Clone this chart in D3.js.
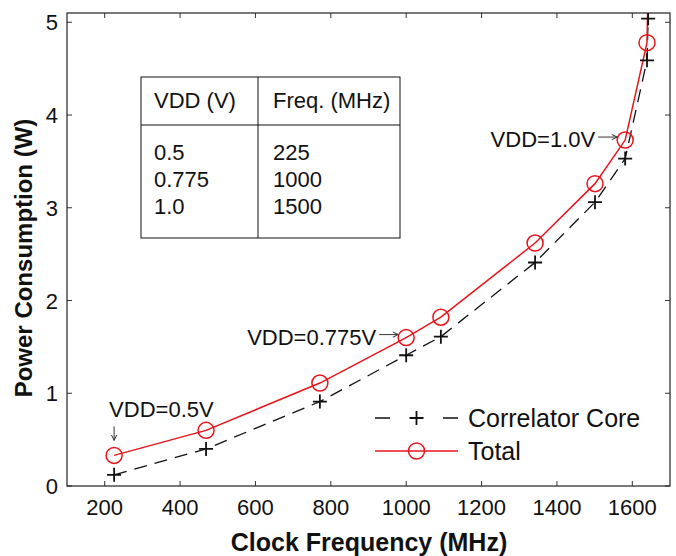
<!DOCTYPE html>
<meta charset="utf-8">
<title>Power vs Clock Frequency</title>
<style>
  body { margin: 0; background: #fff; }
  text { font-family: Arial, "Liberation Sans", sans-serif; fill: #111; }
</style>
<body>
<script src="https://cdnjs.cloudflare.com/ajax/libs/d3/7.8.5/d3.min.js"></script>
<script>

// values
const freq = [225, 469, 771, 1000, 1092, 1342, 1501, 1581, 1639, 1642];
const core = [0.12, 0.40, 0.91, 1.41, 1.61, 2.41, 3.06, 3.53, 4.59, 5.04];
const total = [0.33, 0.60, 1.11, 1.60, 1.82, 2.62, 3.26, 3.73, 4.78, 5.40];
const xTicks = [200, 400, 600, 800, 1000, 1200, 1400, 1600];
const yTicks = [0, 1, 2, 3, 4, 5];
const tableHead = ["VDD (V)", "Freq. (MHz)"];
const tableVdd = ["0.5", "0.775", "1.0"];
const tableFreq = ["225", "1000", "1500"];
const notes = [
  { text: "VDD=0.5V", f: 225, p: 0.33, dir: "down" },
  { text: "VDD=0.775V", f: 1000, p: 1.60, dir: "right" },
  { text: "VDD=1.0V", f: 1581, p: 3.73, dir: "right" }
];
const legendNames = ["Correlator Core", "Total"];

const width = 676, height = 556;
const margin = { top: 13, right: 6, bottom: 70, left: 67 };

const svg = d3.select("body").append("svg")
    .attr("width", width)
    .attr("height", height);

const x = d3.scaleLinear().domain([100, 1700]).range([margin.left, width - margin.right]);
const y = d3.scaleLinear().domain([0, 5.1]).range([height - margin.bottom, margin.top]);

svg.append("defs").append("clipPath").attr("id", "plot")
  .append("rect")
    .attr("x", x(100)).attr("y", y(5.1))
    .attr("width", x(1700) - x(100)).attr("height", y(0) - y(5.1));

// ticks pointing inward on all four sides (matlab style)
const tick = 5;
const axes = svg.append("g").attr("stroke", "#333").attr("stroke-width", 1);
xTicks.forEach(t => {
  axes.append("line").attr("x1", x(t)).attr("x2", x(t)).attr("y1", y(0)).attr("y2", y(0) - tick);
  axes.append("line").attr("x1", x(t)).attr("x2", x(t)).attr("y1", y(5.1)).attr("y2", y(5.1) + tick);
});
yTicks.forEach(t => {
  axes.append("line").attr("x1", x(100)).attr("x2", x(100) + tick).attr("y1", y(t)).attr("y2", y(t));
  axes.append("line").attr("x1", x(1700)).attr("x2", x(1700) - tick).attr("y1", y(t)).attr("y2", y(t));
});
svg.append("rect")
    .attr("x", x(100)).attr("y", y(5.1))
    .attr("width", x(1700) - x(100)).attr("height", y(0) - y(5.1))
    .attr("fill", "none").attr("stroke", "#222").attr("stroke-width", 1.2);

svg.append("g").selectAll("text").data(xTicks).join("text")
    .attr("x", d => x(d)).attr("y", y(0) + 29)
    .attr("text-anchor", "middle").attr("font-size", 22)
    .text(d => d);
svg.append("g").selectAll("text").data(yTicks).join("text")
    .attr("x", x(100) - 9).attr("y", d => y(d) + 8)
    .attr("text-anchor", "end").attr("font-size", 22)
    .text(d => d);

svg.append("text")
    .attr("x", 369).attr("y", 551)
    .attr("text-anchor", "middle").attr("font-size", 25).attr("font-weight", "bold")
    .text("Clock Frequency (MHz)");
svg.append("text")
    .attr("transform", "translate(32,258) rotate(-90)")
    .attr("text-anchor", "middle").attr("font-size", 24).attr("font-weight", "bold")
    .text("Power Consumption (W)");

// table box
const tb = svg.append("g");
const tx0 = 141, tx1 = 258, tx2 = 400, ty0 = 77, ty1 = 125, ty2 = 238;
tb.append("rect").attr("x", tx0).attr("y", ty0).attr("width", tx2 - tx0).attr("height", ty2 - ty0)
    .attr("fill", "#fff").attr("stroke", "#111").attr("stroke-width", 1);
tb.append("line").attr("x1", tx0).attr("x2", tx2).attr("y1", ty1).attr("y2", ty1).attr("stroke", "#111");
tb.append("line").attr("x1", tx1).attr("x2", tx1).attr("y1", ty0).attr("y2", ty2).attr("stroke", "#111");
tb.selectAll("text.h").data(tableHead).join("text")
    .attr("x", (d, i) => i ? tx1 + 15 : tx0 + 13).attr("y", 108)
    .attr("font-size", 22).text(d => d);
// each column is one text block
[tableVdd, tableFreq].forEach((col, c) => {
  tb.append("text")
      .attr("font-size", 22)
    .selectAll("tspan").data(col).join("tspan")
      .attr("x", c ? tx1 + 15 : tx0 + 13)
      .attr("y", (d, i) => 160 + i * 27)
      .text(d => d);
});

// series
const plot = svg.append("g").attr("clip-path", "url(#plot)");
const pts = s => freq.map((f, i) => [f, s[i]]);
const line = d3.line().x(d => x(d[0])).y(d => y(d[1]));

plot.append("path").datum(pts(core))
    .attr("d", line).attr("fill", "none")
    .attr("stroke", "#111").attr("stroke-width", 1.3).attr("stroke-dasharray", "13,8");
plot.append("path").datum(pts(total))
    .attr("d", line).attr("fill", "none")
    .attr("stroke", "#e8141c").attr("stroke-width", 1.5);

const plus = (g, cx, cy) => {
  g.append("path")
    .attr("d", `M${cx - 7},${cy}H${cx + 7}M${cx},${cy - 7}V${cy + 7}`)
    .attr("stroke", "#111").attr("stroke-width", 1.8);
};
pts(core).forEach(d => plus(plot, x(d[0]), y(d[1])));
plot.selectAll("circle").data(pts(total)).join("circle")
    .attr("cx", d => x(d[0])).attr("cy", d => y(d[1])).attr("r", 8)
    .attr("fill", "none").attr("stroke", "#e8141c").attr("stroke-width", 1.5);

// annotations with thin arrows
const arrow = (x1, y1, x2, y2) => {
  const g = svg.append("g").attr("stroke", "#333").attr("stroke-width", 1).attr("fill", "none");
  g.append("line").attr("x1", x1).attr("y1", y1).attr("x2", x2).attr("y2", y2);
  const a = Math.atan2(y2 - y1, x2 - x1), h = 6;
  g.append("path").attr("d",
    `M${x2 - h * Math.cos(a - 0.45)},${y2 - h * Math.sin(a - 0.45)}L${x2},${y2}L${x2 - h * Math.cos(a + 0.45)},${y2 - h * Math.sin(a + 0.45)}`);
};
notes.forEach(n => {
  const px = x(n.f), py = y(n.p);
  if (n.dir === "down") {
    svg.append("text").attr("x", px - 5).attr("y", py - 38).attr("font-size", 22).text(n.text);
    arrow(px, py - 29, px, py - 15);
  } else {
    svg.append("text").attr("x", px - 30).attr("y", py + 7)
        .attr("text-anchor", "end").attr("font-size", 22).text(n.text);
    arrow(px - 27, py - 3, px - 8, py - 3);
  }
});

// legend
const lg = svg.append("g");
const lx0 = 375, lx1 = 458, ly = [418, 451];
lg.append("line").attr("x1", lx0).attr("x2", lx1).attr("y1", ly[0]).attr("y2", ly[0])
    .attr("stroke", "#111").attr("stroke-width", 1.3).attr("stroke-dasharray", "15,53");
plus(lg, (lx0 + lx1) / 2, ly[0]);
lg.append("line").attr("x1", lx0).attr("x2", lx1).attr("y1", ly[1]).attr("y2", ly[1])
    .attr("stroke", "#e8141c").attr("stroke-width", 1.5);
lg.append("circle").attr("cx", (lx0 + lx1) / 2).attr("cy", ly[1]).attr("r", 8)
    .attr("fill", "none").attr("stroke", "#e8141c").attr("stroke-width", 1.5);
lg.selectAll("text").data(legendNames).join("text")
    .attr("x", lx1 + 10).attr("y", (d, i) => ly[i] + 9)
    .attr("font-size", 25).text(d => d);

</script>
</body>
